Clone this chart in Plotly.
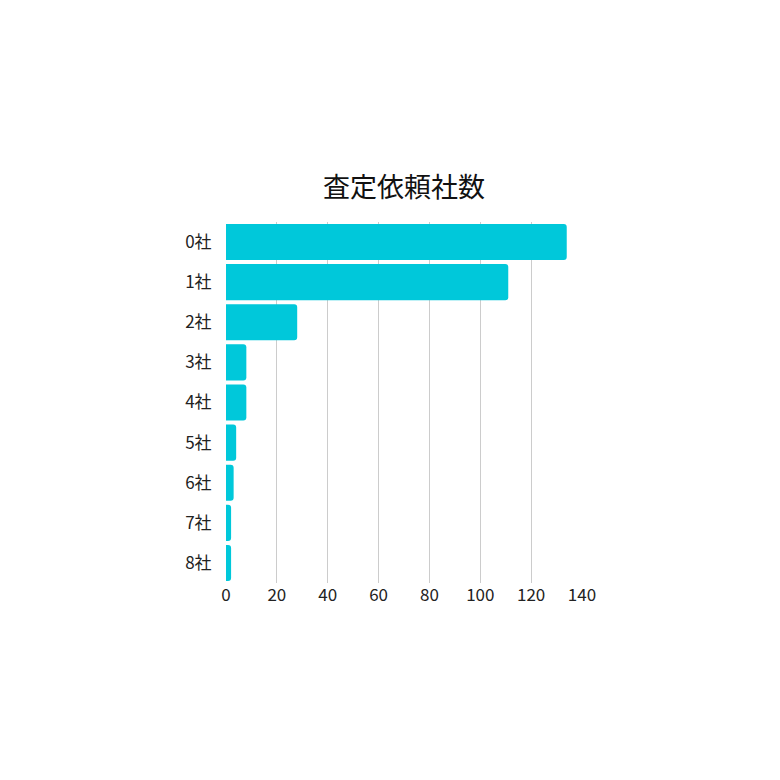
import plotly.graph_objects as go

categories = ["0社", "1社", "2社", "3社", "4社", "5社", "6社", "7社", "8社"]
values = [134, 111, 28, 8, 8, 4, 3, 2, 2]
x_ticks = [0, 20, 40, 60, 80, 100, 120, 140]

fig = go.Figure(go.Bar(
    y=categories, x=values, orientation="h",
    marker=dict(color="#00C8DA", cornerradius=3, line=dict(width=0)),
))
fig.update_layout(
    width=772, height=772,
    paper_bgcolor="white", plot_bgcolor="white",
    font=dict(family="Noto Sans CJK JP", size=17, color="#222"),
    title=dict(text="査定依頼社数", x=0.513, xanchor="center", y=0.767, yanchor="middle",
               font=dict(size=27, color="#111")),
    margin=dict(l=218, r=198, t=214, b=197),
    bargap=0.1,
    showlegend=False,
)
fig.update_xaxes(range=[0, 140], tickvals=x_ticks, showgrid=True, gridcolor="#CCCCCC",
                 gridwidth=1, zeroline=False, showline=False, ticks="", ticklen=0,
                 tickfont=dict(size=17))
fig.update_yaxes(categoryorder="array", categoryarray=categories, autorange="reversed",
                 showgrid=False, zeroline=False, showline=False, ticks="outside",
                 ticklen=10, tickcolor="white", tickfont=dict(size=17))
fig.write_html("out.html")
